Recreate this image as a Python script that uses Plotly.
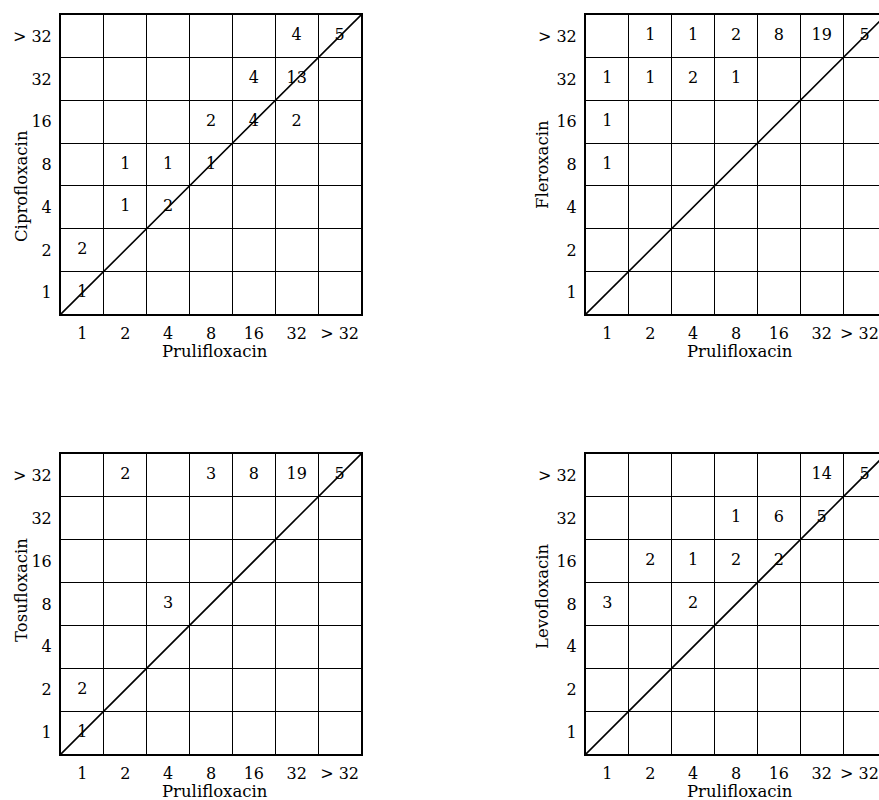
import plotly.graph_objects as go

# ---------------- data ----------------
mic_levels = ["1", "2", "4", "8", "16", "32", "> 32"]   # MIC categories (both axes)
x_drug = "Prulifloxacin"
y_drugs = ["Ciprofloxacin", "Fleroxacin", "Tosufloxacin", "Levofloxacin"]

_ = None
# rows listed from top (> 32) down to bottom (1); columns follow mic_levels
ciprofloxacin = [
    [_, _, _, _, _, 4, 5],
    [_, _, _, _, 4, 13, _],
    [_, _, _, 2, 4, 2, _],
    [_, 1, 1, 1, _, _, _],
    [_, 1, 2, _, _, _, _],
    [2, _, _, _, _, _, _],
    [1, _, _, _, _, _, _],
]
fleroxacin = [
    [_, 1, 1, 2, 8, 19, 5],
    [1, 1, 2, 1, _, _, _],
    [1, _, _, _, _, _, _],
    [1, _, _, _, _, _, _],
    [_, _, _, _, _, _, _],
    [_, _, _, _, _, _, _],
    [_, _, _, _, _, _, _],
]
tosufloxacin = [
    [_, 2, _, 3, 8, 19, 5],
    [_, _, _, _, _, _, _],
    [_, _, _, _, _, _, _],
    [_, _, 3, _, _, _, _],
    [_, _, _, _, _, _, _],
    [2, _, _, _, _, _, _],
    [1, _, _, _, _, _, _],
]
levofloxacin = [
    [_, _, _, _, _, 14, 5],
    [_, _, _, 1, 6, 5, _],
    [_, 2, 1, 2, 2, _, _],
    [3, _, 2, _, _, _, _],
    [_, _, _, _, _, _, _],
    [_, _, _, _, _, _, _],
    [_, _, _, _, _, _, _],
]
matrices = [ciprofloxacin, fleroxacin, tosufloxacin, levofloxacin]

# ---------------- layout (pixels) ----------------
W, H = 879, 800
FONT = "DejaVu Serif"
FS = 16        # counts and tick labels
FS_T = 16.5    # axis titles
n = len(mic_levels)
cell_px = 300 / n
# (left, right_visible, top, bottom) in pixels for each panel
panels = [
    (61, 361, 15, 314),
    (586, 879, 15, 314),
    (61, 361, 454, 754),
    (586, 879, 454, 754),
]
ytitle_pos = [(21, 186), (542, 165), (21, 590), (542, 596)]
xtitle_pos = [(215, 352), (740, 352), (215, 791), (740, 791)]

fig = go.Figure()
layout = dict(
    width=W, height=H, autosize=False,
    margin=dict(l=0, r=0, t=0, b=0),
    paper_bgcolor="white", plot_bgcolor="white",
    showlegend=False,
    font=dict(family=FONT, size=FS, color="black"),
    annotations=[],
)

for i, (mat, ydrug) in enumerate(zip(matrices, y_drugs)):
    sfx = "" if i == 0 else str(i + 1)
    xa, ya = "x" + sfx, "y" + sfx
    l, r, t, b = panels[i]
    visible_cells = (r - l) / cell_px
    full = (r - l) >= 300

    # counts as text
    xs, ys, ts = [], [], []
    for ri, row in enumerate(mat):
        for ci, v in enumerate(row):
            if v is not None:
                xs.append(ci + 1)
                ys.append(n - ri)
                ts.append(str(v))
    fig.add_trace(go.Scatter(
        x=xs, y=ys, text=ts, mode="text",
        textfont=dict(family=FONT, size=FS, color="black"),
        xaxis=xa, yaxis=ya, hoverinfo="skip", cliponaxis=False,
    ))
    # diagonal line of identity
    fig.add_trace(go.Scatter(
        x=[0.5, n + 0.5], y=[0.5, n + 0.5], mode="lines",
        line=dict(color="black", width=1.6),
        xaxis=xa, yaxis=ya, hoverinfo="skip",
    ))

    # right-hand panels are cut by the page edge: keep the last label inside
    xtickvals = list(range(1, n + 1))
    if not full:
        xtickvals[-1] = n - 0.12

    axcommon = dict(
        tickmode="array",
        ticks="", showgrid=False, zeroline=False,
        showline=True, linecolor="black", linewidth=2,
        tickfont=dict(family=FONT, size=FS, color="black"),
        minor=dict(tickmode="linear", tick0=0.5, dtick=1, showgrid=True,
                   gridcolor="black", gridwidth=1, ticks=""),
        fixedrange=True,
    )
    layout["xaxis" + sfx] = dict(
        axcommon, anchor=ya, tickvals=xtickvals, ticktext=mic_levels,
        domain=[l / W, r / W],
        range=[0.5, 0.5 + visible_cells],
        mirror=True, ticklabelstandoff=4,
    )
    layout["yaxis" + sfx] = dict(
        axcommon, anchor=xa, tickvals=list(range(1, n + 1)), ticktext=mic_levels,
        domain=[1 - b / H, 1 - t / H],
        range=[0.5, n + 0.5],
        mirror=full, ticklabelstandoff=4,
    )
    yx, yy = ytitle_pos[i]
    layout["annotations"].append(dict(
        text=ydrug, textangle=-90, x=yx / W, y=1 - yy / H,
        xref="paper", yref="paper", showarrow=False,
        xanchor="center", yanchor="middle",
        font=dict(family=FONT, size=FS_T, color="black"),
    ))
    xx, xy = xtitle_pos[i]
    layout["annotations"].append(dict(
        text=x_drug, x=xx / W, y=1 - xy / H,
        xref="paper", yref="paper", showarrow=False,
        xanchor="center", yanchor="middle",
        font=dict(family=FONT, size=FS_T, color="black"),
    ))

fig.update_layout(**layout)
fig.write_html(
    "out.html",
    config={"displayModeBar": False, "responsive": False},
    post_script="document.body.style.margin='0';document.body.style.overflow='hidden';",
)
